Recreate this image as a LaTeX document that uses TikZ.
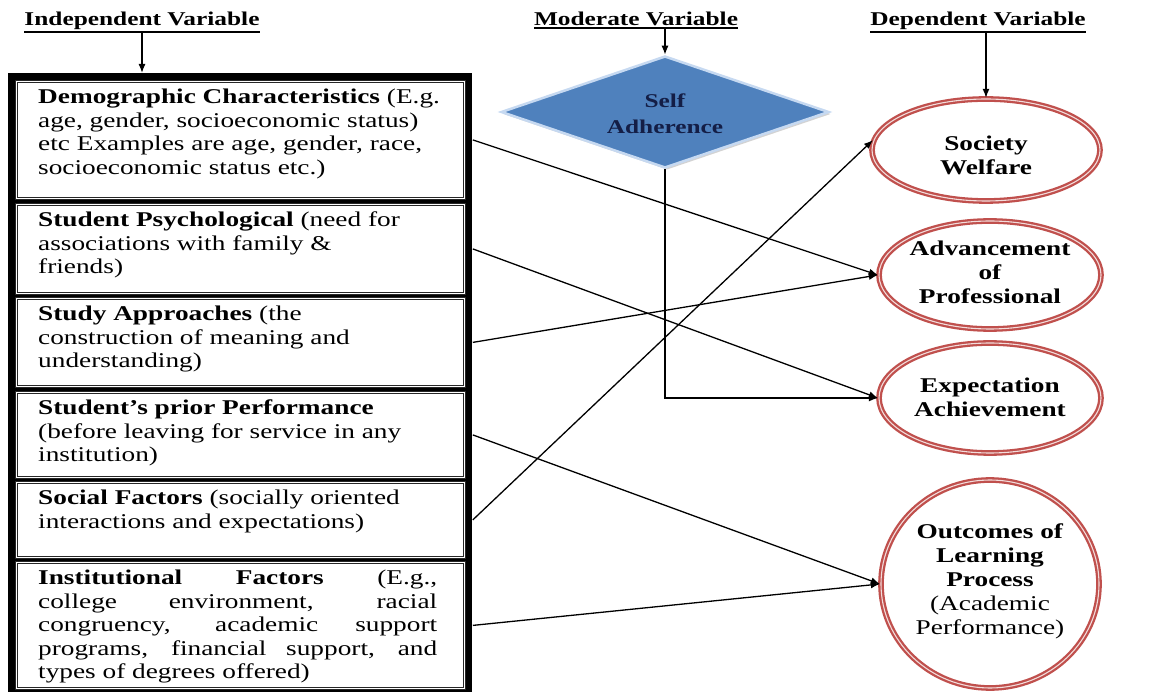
\documentclass[tikz,border=0pt]{standalone}
\usepackage{fontspec}
\setmainfont{Liberation Serif}[FakeStretch=1.3]
\usetikzlibrary{shapes.geometric,arrows.meta,shadows}
\definecolor{diablue}{HTML}{4F81BD}
\definecolor{diaedge}{HTML}{C6D9F1}
\definecolor{ellred}{HTML}{C0504D}
\definecolor{navytxt}{HTML}{141E46}
\newcommand\hdrul[1]{\leavevmode\vtop{\hbox{#1}\kern1.2pt\hrule height 1.6pt}}
\begin{document}
\begin{tikzpicture}[x=1pt,y=-1pt,
  hdr/.style={font=\fontsize{19.5}{22}\selectfont\bfseries, inner sep=0pt},
  ibox/.style={draw=black!85, double=white, double distance=1.4pt, line width=0.8pt, fill=white, anchor=north west, minimum width=448pt, inner sep=0pt},
  btext/.style={font=\fontsize{21}{23.5}\selectfont, align=left, anchor=north west, inner sep=0pt},
  oval/.style={ellipse, draw=ellred, line width=2.3pt, double=white!80!ellred, double distance=1.1pt, fill=white, inner sep=0pt},
  otext/.style={font=\fontsize{21}{24}\selectfont, align=center, inner sep=0pt},
  conn/.style={line width=1.3pt, -{Latex[length=9pt,width=7pt]}},
]
\useasboundingbox (0,0) rectangle (1176,692);
% headers
\node[hdr, anchor=base] (ivh) at (142,26) {\hdrul{Independent Variable}};
\node[hdr, anchor=base] (mvh) at (636,26) {\hdrul{Moderate Variable}};
\node[hdr, anchor=base] (dvh) at (978,26) {\hdrul{Dependent Variable}};
% frame
\node[fill=black, minimum width=464pt, minimum height=619pt, anchor=north west, inner sep=0pt] (frame) at (8,73) {};
% inner boxes
\node[ibox, minimum height=117pt] (b1) at (16,81) {};
\node[ibox, minimum height=89pt] (b2) at (16,204) {};
\node[ibox, minimum height=88pt] (b3) at (16,298) {};
\node[ibox, minimum height=85pt] (b4) at (16,392) {};
\node[ibox, minimum height=75pt] (b5) at (16,482) {};
\node[ibox, minimum height=126pt] (b6) at (16,562) {};
\node[btext] (t1) at (38,89) {\textbf{Demographic Characteristics} (E.g.\\age, gender, socioeconomic status)\\etc Examples are age, gender, race,\\socioeconomic status etc.)};
\node[btext] (t2) at (38,212) {\textbf{Student Psychological} (need for\\associations with family \&\\friends)};
\node[btext] (t3) at (38,306) {\textbf{Study Approaches} (the\\construction of meaning and\\understanding)};
\node[btext] (t4) at (38,400) {\textbf{Student’s prior Performance}\\(before leaving for service in any\\institution)};
\node[btext] (t5) at (38,490) {\textbf{Social Factors} (socially oriented\\interactions and expectations)};
\node[btext] (t6) at (38,570) {\makebox[399pt][s]{\textbf{Institutional Factors} (E.g.,}\\\makebox[399pt][s]{college environment, racial}\\\makebox[399pt][s]{congruency, academic support}\\\makebox[399pt][s]{programs, financial support, and}\\types of degrees offered)};
% diamond
\node[diamond, aspect=3, fill=diablue, draw=diaedge, line width=2.5pt, minimum width=328pt, minimum height=112pt, inner sep=0pt, drop shadow={opacity=0.35, shadow xshift=2pt, shadow yshift=-2pt}] (dia) at (665,112) {};
\node[font=\fontsize{19.5}{26}\selectfont\bfseries, text=navytxt, align=center, inner sep=0pt] (diat) at (665,114) {Self\\Adherence};
% ellipses
\node[oval, minimum width=228pt, minimum height=102pt] (soc) at (986,150) {};
\node[oval, minimum width=222pt, minimum height=108pt] (adv) at (990,275) {};
\node[oval, minimum width=222pt, minimum height=110pt] (exp) at (990,398) {};
\node[oval, minimum width=218pt, minimum height=208pt] (out) at (990,584) {};
\node[otext] (soct) at (986,155) {\textbf{Society}\\\textbf{Welfare}};
\node[otext] (advt) at (990,272) {\textbf{Advancement}\\\textbf{of}\\\textbf{Professional}};
\node[otext] (expt) at (990,397) {\textbf{Expectation}\\\textbf{Achievement}};
\node[otext] (outt) at (990,581) {\textbf{Outcomes of}\\\textbf{Learning}\\\textbf{Process}\\(Academic\\Performance)};
% header arrows
\draw[conn] (ivh.south) -- (ivh.south |- frame.north);
\draw[conn] (dia.north |- mvh.south) -- (dia.north);
\draw[conn] (soc.north |- dvh.south) -- (soc.north);
% connectors
\draw[conn] ([xshift=8pt]b1.east) -- (adv.west);
\draw[conn] ([xshift=8pt]b2.east) -- (exp.west);
\draw[conn] ([xshift=8pt]b3.east) -- (adv.west);
\draw[conn] ([xshift=8pt]b4.east) -- (out.west);
\draw[conn] ([xshift=8pt]b5.east) -- (soc.175);
\draw[conn] ([xshift=8pt]b6.east) -- (out.west);
\draw[conn] (dia.south) |- (exp.west);
\end{tikzpicture}
\end{document}
